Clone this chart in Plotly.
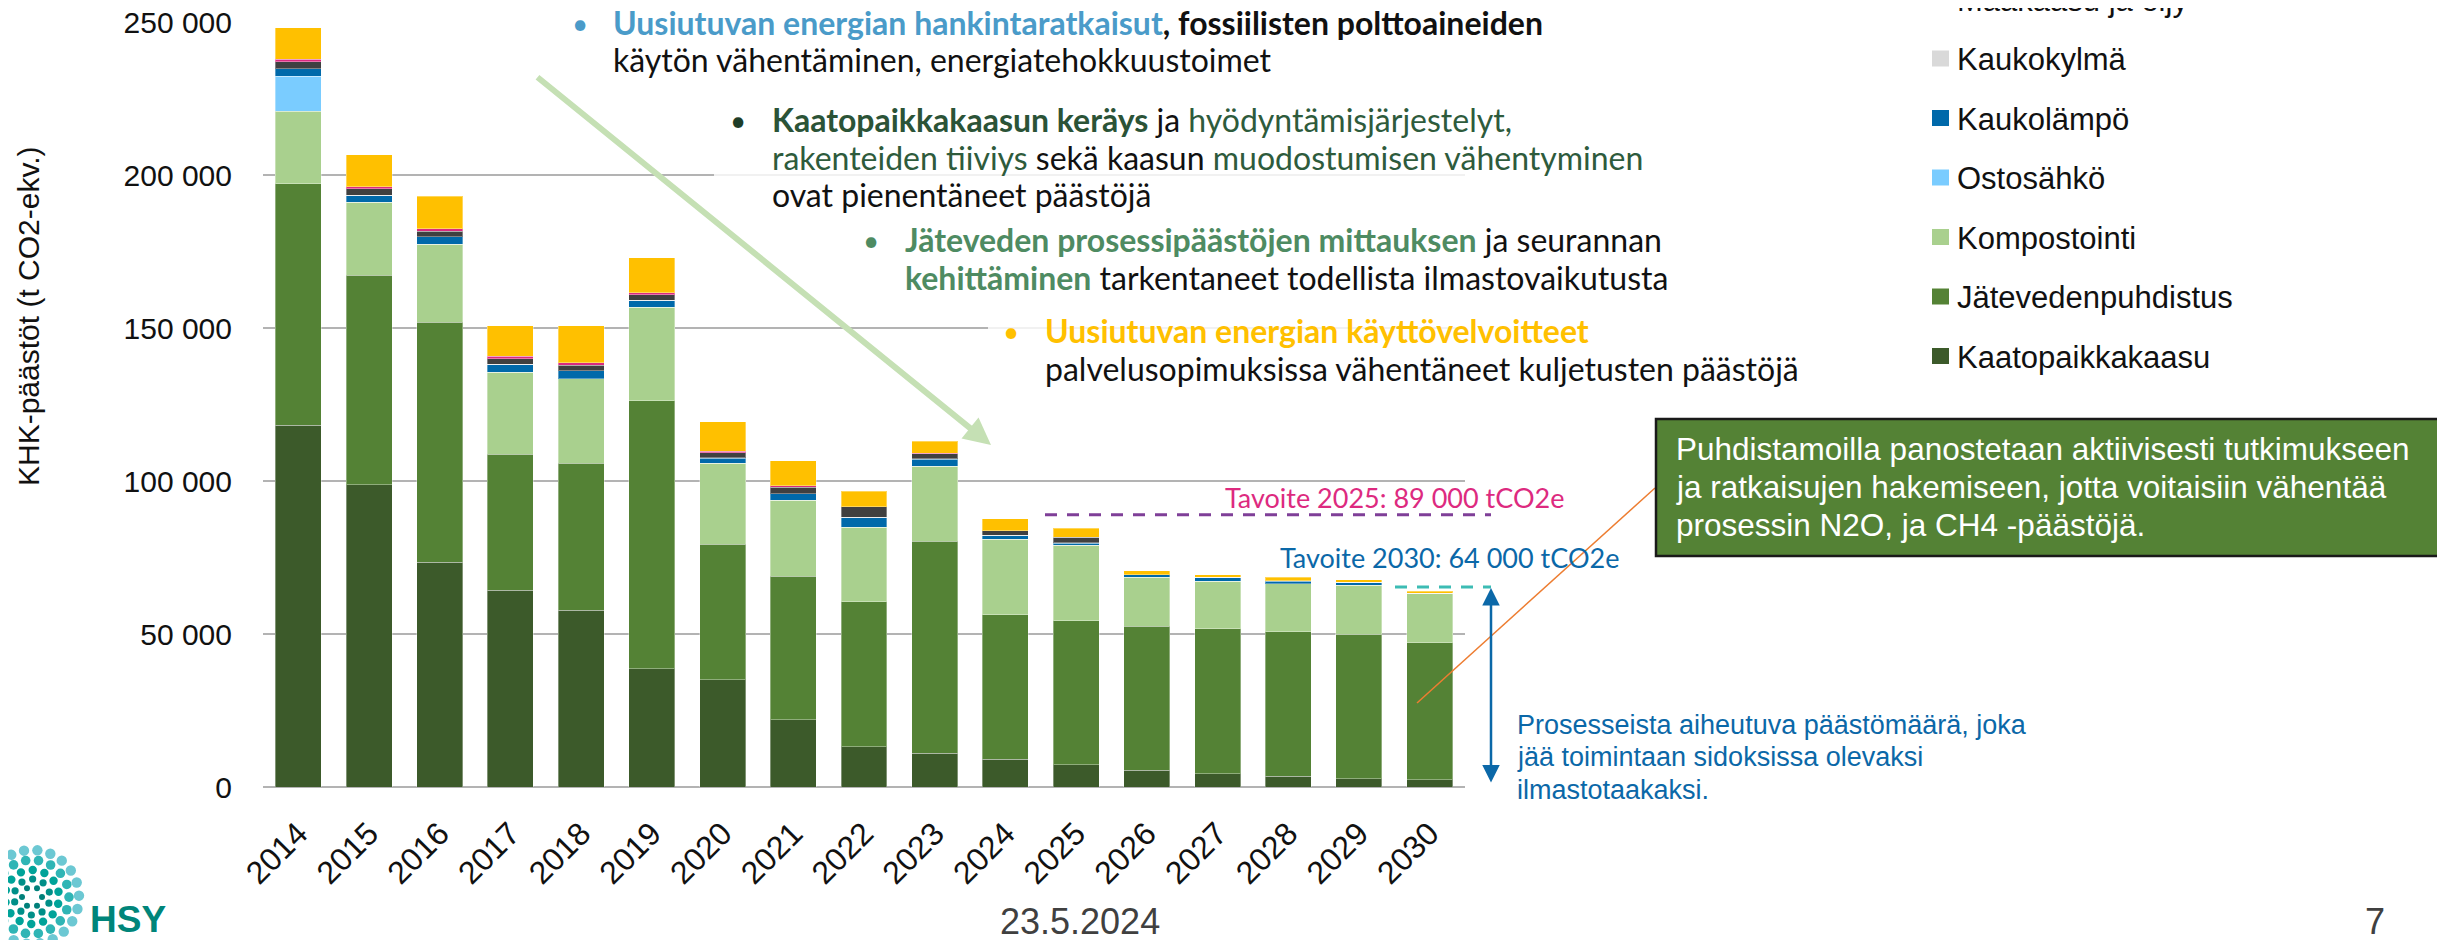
import math
import plotly.graph_objects as go

# ---------------- data (t CO2-ekv.) ----------------
years = ["2014", "2015", "2016", "2017", "2018", "2019", "2020", "2021", "2022",
         "2023", "2024", "2025", "2026", "2027", "2028", "2029", "2030"]

kaatopaikkakaasu = [118300, 98700, 73500, 64300, 57700, 38700, 35000, 22000, 13200,
                    11000, 9100, 7300, 5400, 4400, 3500, 2700, 2300]
jatevedenpuhdistus = [78800, 68600, 78300, 44400, 48100, 87500, 44300, 46900, 47400,
                      69300, 47200, 47000, 47200, 47300, 47300, 47300, 44800]
kompostointi = [23800, 23800, 25500, 26800, 27600, 30600, 26500, 24800, 24300,
                24600, 24700, 24700, 15900, 15500, 15600, 16000, 16000]
ostosahko = [11300, 0, 0, 0, 0, 0, 0, 0, 0, 0, 0, 0, 0, 0, 0, 0, 0]
kaukolampo = [2500, 2200, 2500, 2500, 2600, 2100, 1700, 2100, 3100,
              2200, 1100, 700, 800, 1200, 900, 800, 100]
kaukokylma = [100, 100, 100, 100, 100, 100, 100, 100, 100,
              100, 100, 100, 100, 100, 100, 100, 100]
maakaasu_oljy = [2200, 2100, 1700, 1900, 1700, 1800, 1700, 2100, 3500,
                 1700, 1500, 1900, 0, 0, 0, 0, 0]
tyokoneet = [800, 600, 800, 700, 900, 800, 400, 400, 0,
             100, 0, 0, 0, 0, 0, 0, 0]
kuljetukset = [10400, 10500, 10600, 10000, 12000, 11300, 9600, 8200, 5100,
               4000, 3900, 2900, 1200, 900, 1200, 800, 700]

series_names = ["Kaatopaikkakaasu", "Jätevedenpuhdistus", "Kompostointi", "Ostosähkö",
                "Kaukolämpö", "Kaukokylmä", "Maakaasu ja öljy", "Työkoneet", "Kuljetukset"]
series_values = [kaatopaikkakaasu, jatevedenpuhdistus, kompostointi, ostosahko,
                 kaukolampo, kaukokylma, maakaasu_oljy, tyokoneet, kuljetukset]
series_colors = ["#3C5A2A", "#548235", "#A9D08E", "#7ACCFF",
                 "#0069AA", "#D9D9D9", "#404040", "#DA2A80", "#FFC000"]

y_tick_vals = [0, 50000, 100000, 150000, 200000, 250000]
y_tick_text = ["0", "50 000", "100 000", "150 000", "200 000", "250 000"]

target_2025 = 89000
target_2030_line = 65400

# ---------------- layout geometry ----------------
# the page body has an 8 px margin, so the figure is 8 px smaller and
# all page coordinates below are shifted by OFF
OFF = 8
FIG_W, FIG_H = 2445 - OFF, 940 - OFF
M_L, M_R, M_T, M_B = 255, 980, 14, 153
PW = FIG_W - M_L - M_R
PH = FIG_H - M_T - M_B


def px(x):
    return (x - OFF - M_L) / PW


def py(y):
    return (FIG_H - M_B - (y - OFF)) / PH


ARIAL = "Liberation Sans, Arial, sans-serif"
CAL = "Lato, Open Sans, sans-serif"

fig = go.Figure()
for name, vals, col in zip(series_names, series_values, series_colors):
    fig.add_trace(go.Bar(
        x=years, y=vals, name=name,
        marker=dict(color=col, line=dict(color="rgba(255,255,255,0.35)", width=1)),
        showlegend=False,
    ))

shapes = []
annotations = []

# white semi-transparent text boxes (cover gridlines)
for (x0, y0, x1, y1) in [(554, 0, 1600, 78), (714, 92, 1660, 214),
                         (860, 216, 1700, 300), (988, 304, 1800, 396)]:
    shapes.append(dict(type="rect", xref="paper", yref="paper",
                       x0=px(x0), x1=px(x1), y0=py(y1), y1=py(y0),
                       fillcolor="rgba(255,255,255,0.82)", line=dict(width=0),
                       layer="above"))

# manual legend (top entries fall off the canvas as in the original)
for i, (name, col) in enumerate(zip(series_names, series_colors)):
    cy = 356 - 59.5 * i
    if cy < -30:
        continue
    shapes.append(dict(type="rect", xref="paper", yref="paper",
                       x0=px(1932), x1=px(1949), y0=py(cy + 8), y1=py(cy - 8),
                       fillcolor=col, line=dict(width=0)))
    annotations.append(dict(xref="paper", yref="paper", x=px(1955), y=py(cy + 1),
                            xanchor="left", yanchor="middle", showarrow=False,
                            text=name, font=dict(family=ARIAL, size=31, color="#111111")))

# y axis title
annotations.append(dict(xref="paper", yref="paper", x=px(28), y=py(316),
                        xanchor="center", yanchor="middle", showarrow=False,
                        textangle=-90, text="KHK-päästöt (t CO2-ekv.)",
                        font=dict(family=ARIAL, size=30, color="#111111")))

# bullet texts
BLUE_T = "#4A9BC9"
DGREEN = "#2B5337"
DGREEN2 = "#2E5B3C"
MGREEN = "#4E8B62"
YEL = "#FFC000"
FS = 32
bullets = [(580, 34, BLUE_T), (738, 131, "#1E3D28"), (871, 251, MGREEN), (1011, 342, YEL)]
lines = [
    (611, 34, f"<b><span style='color:{BLUE_T}'>Uusiutuvan energian hankintaratkaisut</span>, fossiilisten polttoaineiden</b>"),
    (611, 71, "käytön vähentäminen, energiatehokkuustoimet"),
    (770, 131, f"<b><span style='color:{DGREEN}'>Kaatopaikkakaasun keräys</span></b> ja <span style='color:{DGREEN2}'>hyödyntämisjärjestelyt,</span>"),
    (770, 169, f"<span style='color:{DGREEN2}'>rakenteiden tiiviys</span> sekä kaasun <span style='color:{DGREEN2}'>muodostumisen vähentyminen</span>"),
    (770, 206, "ovat pienentäneet päästöjä"),
    (903, 251, f"<b><span style='color:{MGREEN}'>Jäteveden prosessipäästöjen mittauksen</span></b> ja seurannan"),
    (903, 289, f"<b><span style='color:{MGREEN}'>kehittäminen</span></b> tarkentaneet todellista ilmastovaikutusta"),
    (1043, 342, f"<b><span style='color:{YEL}'>Uusiutuvan energian käyttövelvoitteet</span></b>"),
    (1043, 380, "palvelusopimuksissa vähentäneet kuljetusten päästöjä"),
]
for (bx, base, col) in bullets:
    annotations.append(dict(xref="paper", yref="paper", x=px(bx), y=py(base - 0.35 * FS),
                            xanchor="center", yanchor="middle", showarrow=False,
                            text="•", font=dict(family=CAL, size=FS - 4, color=col)))
for (lx, base, txt) in lines:
    annotations.append(dict(xref="paper", yref="paper", x=px(lx), y=py(base - 0.35 * FS),
                            xanchor="left", yanchor="middle", showarrow=False,
                            text=txt, font=dict(family=CAL, size=FS, color="#111111")))

# green trend arrow
annotations.append(dict(xref="paper", yref="paper", x=px(991), y=py(445),
                        ax=536 - 991, ay=76 - 445, axref="pixel", ayref="pixel",
                        showarrow=True, arrowhead=2, arrowsize=0.9, arrowwidth=6,
                        arrowcolor="#C5E0B4", text=""))

# target lines
shapes.append(dict(type="line", xref="paper", yref="y", x0=px(1045), x1=px(1491),
                   y0=target_2025, y1=target_2025,
                   line=dict(color="#7F3F98", width=3, dash="12px,10px")))
shapes.append(dict(type="line", xref="paper", yref="y", x0=px(1395), x1=px(1491),
                   y0=target_2030_line, y1=target_2030_line,
                   line=dict(color="#3CBCB4", width=3, dash="12px,10px")))
annotations.append(dict(xref="paper", yref="paper", x=px(1566), y=py(497),
                        xanchor="right", yanchor="middle", showarrow=False,
                        text="Tavoite 2025: 89 000 tCO2e",
                        font=dict(family=CAL, size=27, color="#DD2A7F")))
annotations.append(dict(xref="paper", yref="paper", x=px(1621), y=py(557),
                        xanchor="right", yanchor="middle", showarrow=False,
                        text="Tavoite 2030: 64 000 tCO2e",
                        font=dict(family=CAL, size=27, color="#0B68A8")))

# double arrow
annotations.append(dict(xref="paper", yref="paper", x=px(1491), y=py(588),
                        ax=0, ay=196, axref="pixel", ayref="pixel",
                        showarrow=True, arrowhead=2, arrowside="end+start",
                        arrowsize=1.4, arrowwidth=2.5, arrowcolor="#0B68A8", text=""))
blue_lines = ["Prosesseista aiheutuva päästömäärä, joka",
              "jää toimintaan sidoksissa olevaksi",
              "ilmastotaakaksi."]
for t, yy in zip(blue_lines, [725, 757, 790]):
    annotations.append(dict(xref="paper", yref="paper", x=px(1515), y=py(yy),
                            xanchor="left", yanchor="middle", showarrow=False,
                            text=t, font=dict(family=ARIAL, size=27, color="#0B68A8")))

# green info box + pointer
shapes.append(dict(type="line", xref="paper", yref="paper",
                   x0=px(1655), y0=py(488), x1=px(1417), y1=py(703),
                   line=dict(color="#ED7D31", width=1.5)))
shapes.append(dict(type="rect", xref="paper", yref="paper",
                   x0=px(1656), x1=px(2440), y0=py(556), y1=py(419),
                   fillcolor="#548235", line=dict(color="#1A1A1A", width=2.5)))
box_lines = ["Puhdistamoilla panostetaan aktiivisesti tutkimukseen",
             "ja ratkaisujen hakemiseen, jotta voitaisiin vähentää",
             "prosessin N2O, ja CH4 -päästöjä."]
for t, yy in zip(box_lines, [449, 487, 525]):
    annotations.append(dict(xref="paper", yref="paper", x=px(1674), y=py(yy),
                            xanchor="left", yanchor="middle", showarrow=False,
                            text=t, font=dict(family=ARIAL, size=31.5, color="#FFFFFF")))

# footer
annotations.append(dict(xref="paper", yref="paper", x=px(1080), y=py(921),
                        xanchor="center", yanchor="middle", showarrow=False,
                        text="23.5.2024", font=dict(family=ARIAL, size=36, color="#404040")))
annotations.append(dict(xref="paper", yref="paper", x=px(2375), y=py(921),
                        xanchor="center", yanchor="middle", showarrow=False,
                        text="7", font=dict(family=ARIAL, size=36, color="#404040")))
annotations.append(dict(xref="paper", yref="paper", x=px(88), y=py(919),
                        xanchor="left", yanchor="middle", showarrow=False,
                        text="<b>HSY</b>", font=dict(family=ARIAL, size=37, color="#00857A")))

# HSY logo (decorative swirl of dots)
cx, cy0 = 32, 897
rings = [(10, 6, 3.0, "#00807A"), (18, 10, 3.6, "#008F88"), (27, 14, 4.2, "#00A399"),
         (37, 18, 4.8, "#2FB5B5"), (47, 22, 5.2, "#6CC8D3")]
for k, (r, n, s, col) in enumerate(rings):
    for j in range(n):
        a = 2 * math.pi * j / n + k * 0.35
        x = cx + r * math.cos(a)
        y = cy0 + r * math.sin(a)
        shapes.append(dict(type="circle", xref="paper", yref="paper",
                           x0=px(x - s), x1=px(x + s), y0=py(y + s), y1=py(y - s),
                           fillcolor=col, line=dict(width=0)))

fig.update_layout(
    width=FIG_W, height=FIG_H,
    margin=dict(l=M_L, r=M_R, t=M_T, b=M_B, autoexpand=False),
    paper_bgcolor="white", plot_bgcolor="white",
    barmode="stack", bargap=0.35,
    showlegend=False,
    shapes=shapes, annotations=annotations,
    font=dict(family=ARIAL, color="#111111"),
)
fig.update_yaxes(range=[0, 250000], tickvals=y_tick_vals, ticktext=y_tick_text,
                 showgrid=True, gridcolor="#B3B3B3", gridwidth=2,
                 zeroline=True, zerolinecolor="#B3B3B3", zerolinewidth=2,
                 showline=False, ticks="outside", ticklen=24, tickcolor="rgba(0,0,0,0)",
                 ticklabeloverflow="allow",
                 tickfont=dict(family=ARIAL, size=30, color="#111111"))
fig.update_xaxes(type="category", tickangle=-45, showgrid=False, showline=False,
                 ticks="outside", ticklen=14, tickcolor="rgba(0,0,0,0)",
                 ticklabeloverflow="allow",
                 tickfont=dict(family=ARIAL, size=32, color="#111111"))

fig.write_html("out.html")
